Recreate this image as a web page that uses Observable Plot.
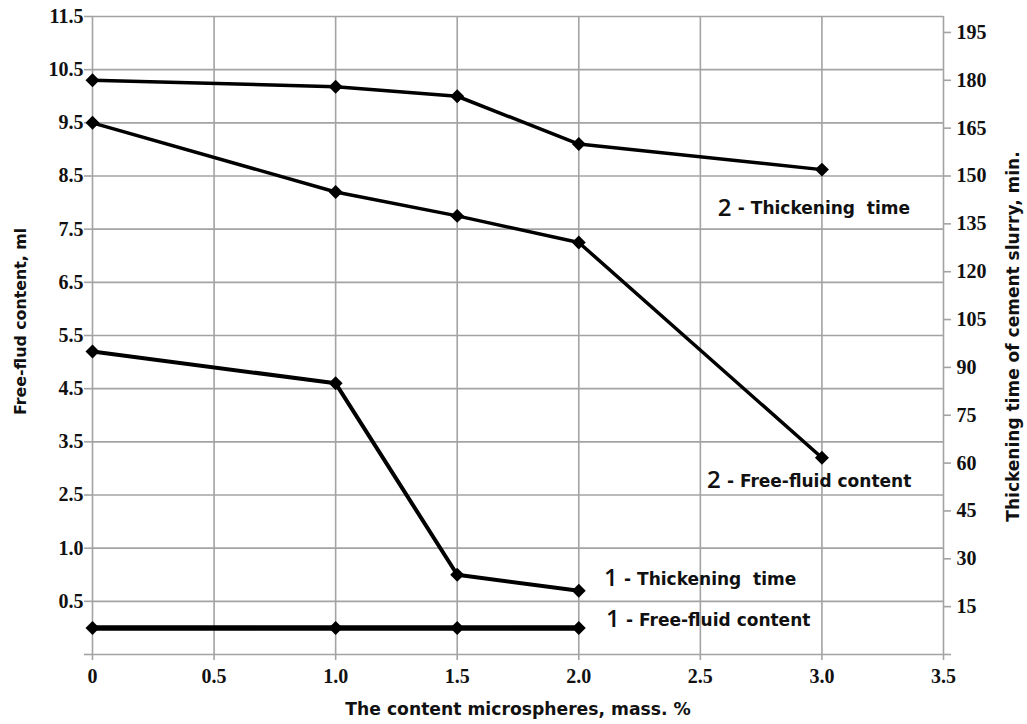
<!DOCTYPE html>
<html>
<head>
<meta charset="utf-8">
<script src="https://cdn.jsdelivr.net/npm/d3@7"></script>
<script src="https://cdn.jsdelivr.net/npm/@observablehq/plot@0.6"></script>
<style>
  html, body { margin: 0; padding: 0; background: #fff; }
  #chart svg { display: block; }
  #chart svg [aria-label$="tick label"] text { font-family: "Liberation Serif", serif; font-weight: bold; font-size: 20px; fill: #111; }
</style>
</head>
<body>
<div id="chart"></div>
<script>
// ---- data ----
const xTicks = [0, 0.5, 1.0, 1.5, 2.0, 2.5, 3.0, 3.5];
const xTickLabels = ["0", "0.5", "1.0", "1.5", "2.0", "2.5", "3.0", "3.5"];
// left axis (free-fluid content, ml): positions and the labels as printed
const leftTickValues = [0.5, 1.5, 2.5, 3.5, 4.5, 5.5, 6.5, 7.5, 8.5, 9.5, 10.5, 11.5];
const leftTickLabels = ["0.5", "1.0", "2.5", "3.5", "4.5", "5.5", "6.5", "7.5", "8.5", "9.5", "10.5", "11.5"];
const leftGridValues = [-0.5, 0.5, 1.5, 2.5, 3.5, 4.5, 5.5, 6.5, 7.5, 8.5, 9.5, 10.5, 11.5];
// right axis (thickening time, min)
const rightTickValues = [0, 15, 30, 45, 60, 75, 90, 105, 120, 135, 150, 165, 180, 195];

// series
const content1 = [0, 1.0, 1.5, 2.0];
const thickening1 = [95, 85, 25, 20];      // min
const freeFluid1 = [0, 0, 0, 0];           // ml
const content2 = [0, 1.0, 1.5, 2.0, 3.0];
const thickening2 = [180, 178, 175, 160, 152]; // min
const freeFluid2 = [9.5, 8.2, 7.75, 7.25, 3.2]; // ml

const seriesNames = ["1 - Thickening time", "1 - Free-fluid content", "2 - Thickening time", "2 - Free-fluid content"];
const seriesWidths = [4, 5.5, 3.5, 3.5];
const annotations = [
  {num: "2", text: "- Thickening\u00a0\u00a0time", x: 2.572, y: 140},
  {num: "2", text: "- Free-fluid content", x: 2.527, y: 54.5},
  {num: "1", text: "- Thickening\u00a0\u00a0time", x: 2.104, y: 23.8},
  {num: "1", text: "- Free-fluid content", x: 2.112, y: 11}
];

// the left (ml) axis shares the frame with the right (min) axis: -0.5 ml ↔ 0 min, 11.5 ml ↔ 200 min
const mlToMin = ml => (ml + 0.5) * 200 / 12;

const series = [
  content1.map((x, i) => ({x, y: thickening1[i]})),
  content1.map((x, i) => ({x, y: mlToMin(freeFluid1[i])})),
  content2.map((x, i) => ({x, y: thickening2[i]})),
  content2.map((x, i) => ({x, y: mlToMin(freeFluid2[i])}))
];
const allPoints = series.flat();

const grid = "#a3a3a3";
const sans = "'DejaVu Sans', 'Open Sans', sans-serif";
const ink = "#111";

const chart = Plot.plot({
  width: 1027,
  height: 724,
  marginLeft: 92,
  marginRight: 84,
  marginTop: 16,
  marginBottom: 70,
  x: {type: "linear", domain: [0, 3.5], axis: null},
  y: {type: "linear", domain: [0, 200], axis: null},
  style: {fontFamily: sans, background: "#fff"},
  marks: [
    Plot.ruleY(leftGridValues.map(mlToMin), {stroke: grid, strokeWidth: 1.6}),
    Plot.ruleX(xTicks, {stroke: grid, strokeWidth: 1.6}),
    Plot.axisY(leftGridValues.map(mlToMin), {anchor: "left", tickFormat: () => "", tickSize: 8, stroke: grid, strokeWidth: 1.6, label: null}),
    Plot.axisY(leftTickValues.map(mlToMin), {anchor: "left", tickFormat: (d, i) => leftTickLabels[i], tickSize: 0, tickPadding: 9, label: null}),
    Plot.axisY(rightTickValues, {anchor: "right", tickFormat: d => d === 0 ? "" : String(d), tickSize: 7, stroke: grid, strokeWidth: 1.6, tickPadding: 6, label: null}),
    Plot.axisX(xTicks, {anchor: "bottom", tickFormat: (d, i) => xTickLabels[i], tickSize: 6, stroke: grid, strokeWidth: 1.6, tickPadding: 8, label: null}),
    ...series.map((s, k) => Plot.line(s, {x: "x", y: "y", stroke: "#000", strokeWidth: seriesWidths[k]})),
    Plot.dot(allPoints, {x: "x", y: "y", symbol: "diamond2", r: 6.3, fill: "#000", stroke: "none"}),
    Plot.text(annotations, {x: "x", y: "y", text: "num", textAnchor: "start", fontSize: 24, fontWeight: 600, fontFamily: "'Open Sans', sans-serif", fill: ink}),
    Plot.text(annotations, {x: "x", y: "y", text: "text", textAnchor: "start", dx: 20, dy: 1, fontSize: 17, fontWeight: "bold", fontFamily: sans, fill: ink}),
    Plot.text(["The content microspheres, mass. %"], {frameAnchor: "bottom", textAnchor: "middle", dy: 60, fontSize: 17.2, fontWeight: "bold", fontFamily: sans, fill: ink}),
    Plot.text(["Free-flud content, ml"], {frameAnchor: "left", textAnchor: "middle", dx: -72, dy: -14, rotate: -90, fontSize: 15.8, fontWeight: "bold", fontFamily: sans, fill: ink}),
    Plot.text(["Thickening time of cement slurry, min."], {frameAnchor: "right", textAnchor: "middle", dx: 70, dy: 1, rotate: -90, fontSize: 17, fontWeight: "bold", fontFamily: sans, fill: ink})
  ]
});
document.getElementById("chart").appendChild(chart);
</script>
</body>
</html>
